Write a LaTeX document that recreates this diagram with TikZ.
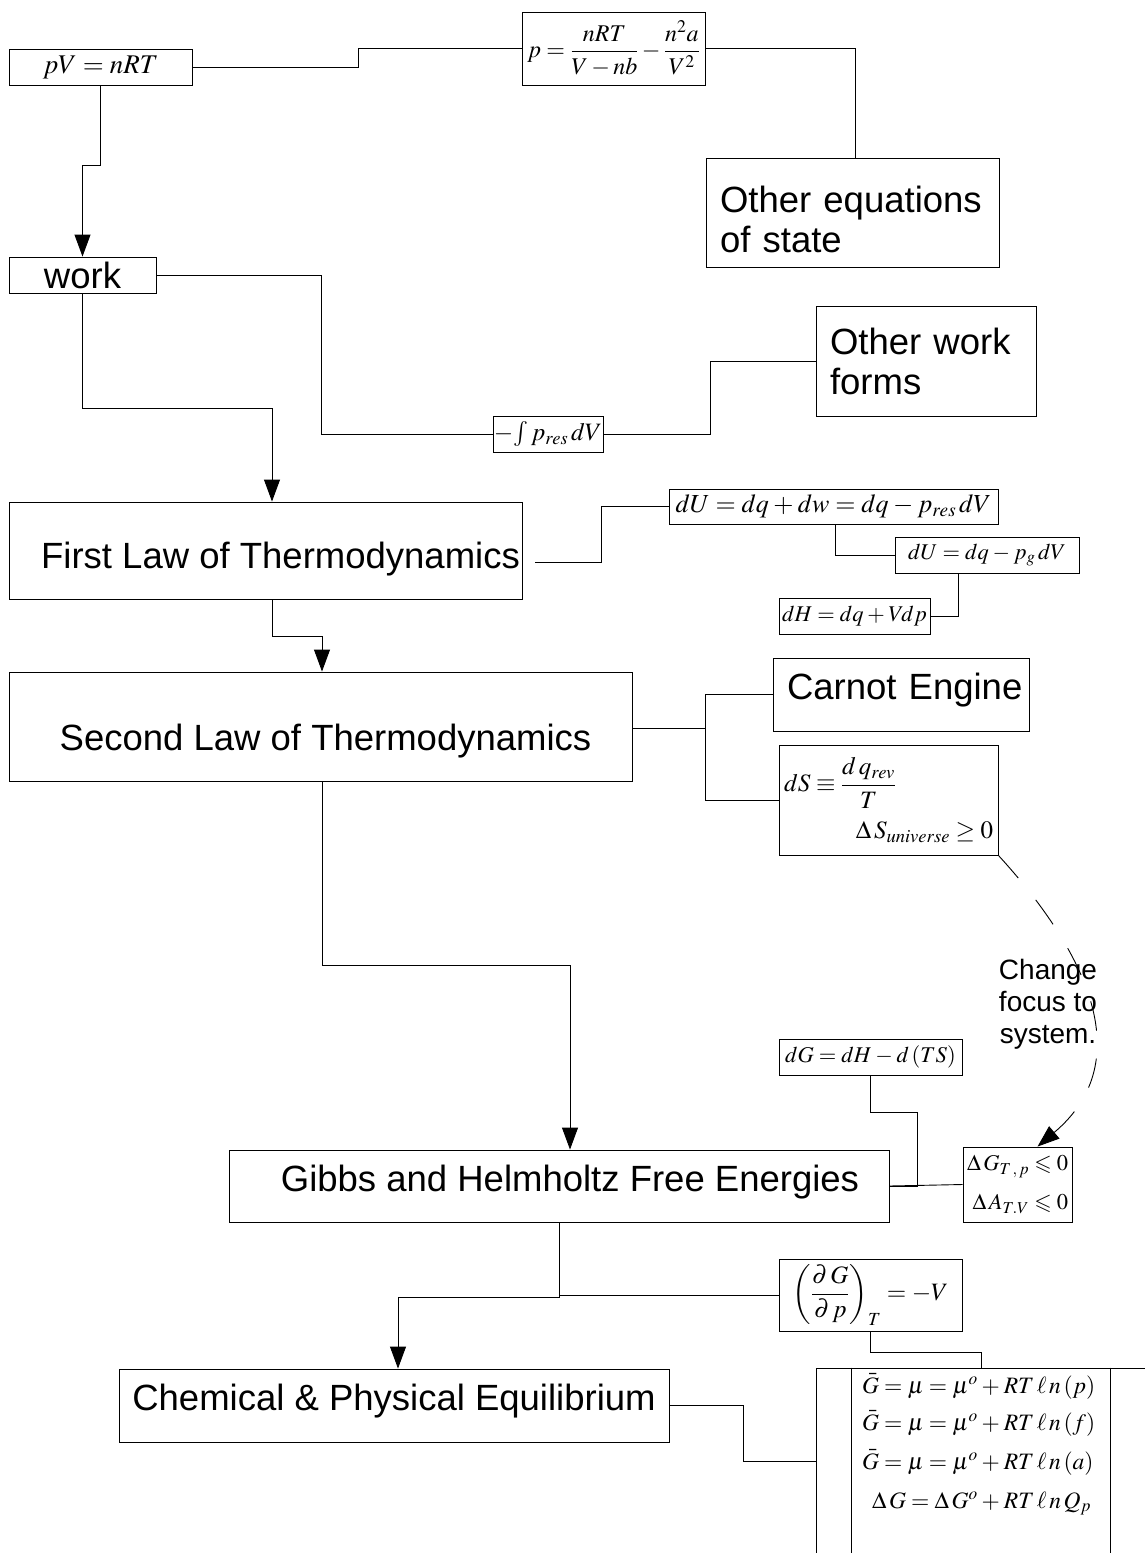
\documentclass[tikz,border=0pt]{standalone}
\usepackage{amsmath}
\usepackage{mathptmx}
\usepackage{amssymb}
\usepackage[no-math]{fontspec}
\newfontfamily\arialfont{Liberation Sans}
\usetikzlibrary{arrows.meta}

% lower or raise a one-line title inside its box
\newcommand{\shiftline}[2]{\raisebox{#1}[0pt][0pt]{#2}}
% tighter spacing round = and +, as in the equation boxes
\newcommand{\tightmath}{\thickmuskip=4mu plus 2mu\medmuskip=3mu plus 2mu minus 2mu}

\tikzset{
  box/.style={draw, line width=0.9pt, inner sep=0pt, align=center},
  title/.style={box, font=\arialfont\fontsize{36.5}{40}\selectfont},
  eqn/.style={box, font=\fontsize{25}{30}\selectfont\tightmath},
  small eqn/.style={eqn, font=\fontsize{22.5}{30}\selectfont\tightmath},
  link/.style={draw, line width=0.9pt},
  arr/.style={-{Triangle[length=22pt,width=16pt]}},
  longdash/.style={dash pattern=on 30pt off 28pt},
}

\begin{document}
\begin{tikzpicture}[x=1pt, y=-1pt]

  \useasboundingbox (0,0) rectangle (1144,1553);

  % Equations of state
  \node[eqn, minimum width=183pt, minimum height=36pt, font=\fontsize{27}{30}\selectfont\tightmath] (pv)
    at (100.5,67) {$pV=nRT$};
  \node[eqn, minimum width=183pt, minimum height=73pt, font=\fontsize{24}{30}\selectfont] (vdw) at (613.5,48.5)
    {$p=\dfrac{nRT}{V-nb}-\dfrac{n^2a}{V^2}$};
  \node[title, minimum width=293pt, minimum height=109pt, text width=265pt, align=left] (othereq)
    at (852.5,212.5) {\rule{0pt}{41pt}Other equations\\of state};

  % Work
  \node[title, minimum width=147pt, minimum height=36pt] (work) at (82.5,275) {work};
  \node[eqn, minimum width=110pt, minimum height=36pt] (integ) at (548,434) {$-\!\int p_{res}\,dV$};
  \node[title, minimum width=220pt, minimum height=110pt, text width=192pt, align=left] (otherwork)
    at (926,361) {Other work\\forms};

  % First law
  \node[title, minimum width=513pt, minimum height=97pt] (first) at (265.5,550.5)
    {\hspace{30pt}\shiftline{-17.5pt}{First Law of Thermodynamics}};
  \node[eqn, minimum width=329pt, minimum height=35pt, font=\fontsize{26}{30}\selectfont\tightmath] (du1)
    at (833.5,506.5) {$dU=dq+dw=dq-p_{res}\,dV$};
  \node[small eqn, minimum width=184pt, minimum height=36pt] (du2) at (987,555) {$dU=dq-p_{g}\,dV$};
  \node[small eqn, minimum width=151pt, minimum height=36pt] (dh) at (854.5,616) {$dH=dq+V\!dp$};

  % Second law
  \node[title, minimum width=623pt, minimum height=109pt] (second) at (320.5,726.5)
    {\hspace{10pt}\shiftline{-23.5pt}{Second Law of Thermodynamics}};
  \node[title, minimum width=256pt, minimum height=73pt, text width=228pt, align=left] (carnot)
    at (901,694.5) {\shiftline{-4.5pt}{Carnot Engine}};
  \node[eqn, minimum width=219pt, minimum height=110pt, text width=209pt, align=left] (ds) at (888.5,800)
    {$dS\equiv\dfrac{d\,q_{rev}}{T}$\\[12pt]\hskip0pt plus1filll$\Delta\,S_{universe}\geq 0$};

  % Free energies
  \node[title, minimum width=660pt, minimum height=72pt] (gibbs) at (559,1186)
    {\hspace{22pt}\shiftline{-5pt}{Gibbs and Helmholtz Free Energies}};
  \node[small eqn, minimum width=183pt, minimum height=36pt] (dg) at (870.5,1057) {$dG=dH-d\,(TS)$};
  \node[small eqn, minimum width=109pt, minimum height=75pt, align=right] (dgtp) at (1017.5,1184.5)
    {$\Delta\,G_{T\,,\,p}\leqslant 0$\\[9pt]$\Delta\,A_{T.V}\leqslant 0$};
  \node[font=\arialfont\fontsize{28}{32}\selectfont, align=center] (focus) at (1048,1004)
    {Change\\focus to\\system.};

  % Equilibrium
  \node[eqn, minimum width=183pt, minimum height=72pt] (dgdp) at (870.5,1295)
    {$\left(\dfrac{\partial\,G}{\partial\,p}\right)_{T}=-V$};
  \node[title, minimum width=550pt, minimum height=73pt] (chem) at (394,1405.5)
    {\shiftline{-4.5pt}{Chemical \& Physical Equilibrium}};
  \node[eqn, minimum width=330pt, minimum height=187pt, text width=238pt, inner xsep=46pt, align=left,
    font=\fontsize{23.5}{37}\selectfont\tightmath] (eqs) at (981,1461.5)
    {$\bar{G}=\mu=\mu^{o}+RT\,\ell\,n\,(p)$\\
     $\bar{G}=\mu=\mu^{o}+RT\,\ell\,n\,(f)$\\[2pt]
     $\bar{G}=\mu=\mu^{o}+RT\,\ell\,n\,(a)$\\[2pt]
     \hspace*{10pt}$\Delta\,G=\Delta\,G^{o}+RT\,\ell\,n\,Q_{p}$\\[4pt]\mbox{}};
  \draw[link] ([xshift=36pt]eqs.north west) -- ([xshift=36pt]eqs.south west);
  \draw[link] ([xshift=-36pt]eqs.north east) -- ([xshift=-36pt]eqs.south east);

  % Connectors
  \draw[link] (pv.east) -- ++(166,0) |- (vdw.west);
  \draw[link] (vdw.east) -| ([xshift=2.5pt]othereq.north);
  \draw[link, arr] (pv.south) -- ++(0,80) -| (work.north);
  \draw[link] (work.east) -- ++(165,0) |- (integ.west);
  \draw[link] (integ.east) -- ++(107,0) |- (otherwork.west);
  \draw[link, arr] (work.south) -- ++(0,115) -| ([xshift=6.5pt]first.north);

  \draw[link] ([shift={(13pt,-11.5pt)}]first.east) -- ++(66,0) |- (du1.west);
  \draw[link] ([xshift=1.5pt]du1.south) |- (du2.west);
  \draw[link] ([xshift=-29pt]du2.south) |- (dh.east);
  \draw[link, arr] ([xshift=6.5pt]first.south) -- ++(0,37) -| ([xshift=1.5pt]second.north);

  \draw[link] ([yshift=-1.5pt]second.east) -- ++(73,0) coordinate (sj);
  \draw[link] (sj) |- (carnot.west);
  \draw[link] (sj) |- (ds.west);
  \draw[link, arr] ([xshift=1.5pt]second.south) -- ++(0,184) -| ([xshift=11pt]gibbs.north);

  \draw[link] (gibbs.east) -- (dgtp.west);
  \draw[link] (dg.south) -- ++(0,37) -- ++(47,0) |- (gibbs.east);
  \draw[link, longdash, arr] (ds.south east) .. controls (1085,950) and (1140,1060) .. ([xshift=20pt]dgtp.north);

  \draw[link, arr] (gibbs.south) -- ++(0,75) -| ([xshift=4pt]chem.north);
  \draw[link] (dgdp.west) -- (gibbs.south |- dgdp.west);
  \draw[link] (dgdp.south) -- ++(0,21) -| (eqs.north);
  \draw[link] (chem.east) -- ++(74,0) |- (eqs.west);

\end{tikzpicture}
\end{document}
